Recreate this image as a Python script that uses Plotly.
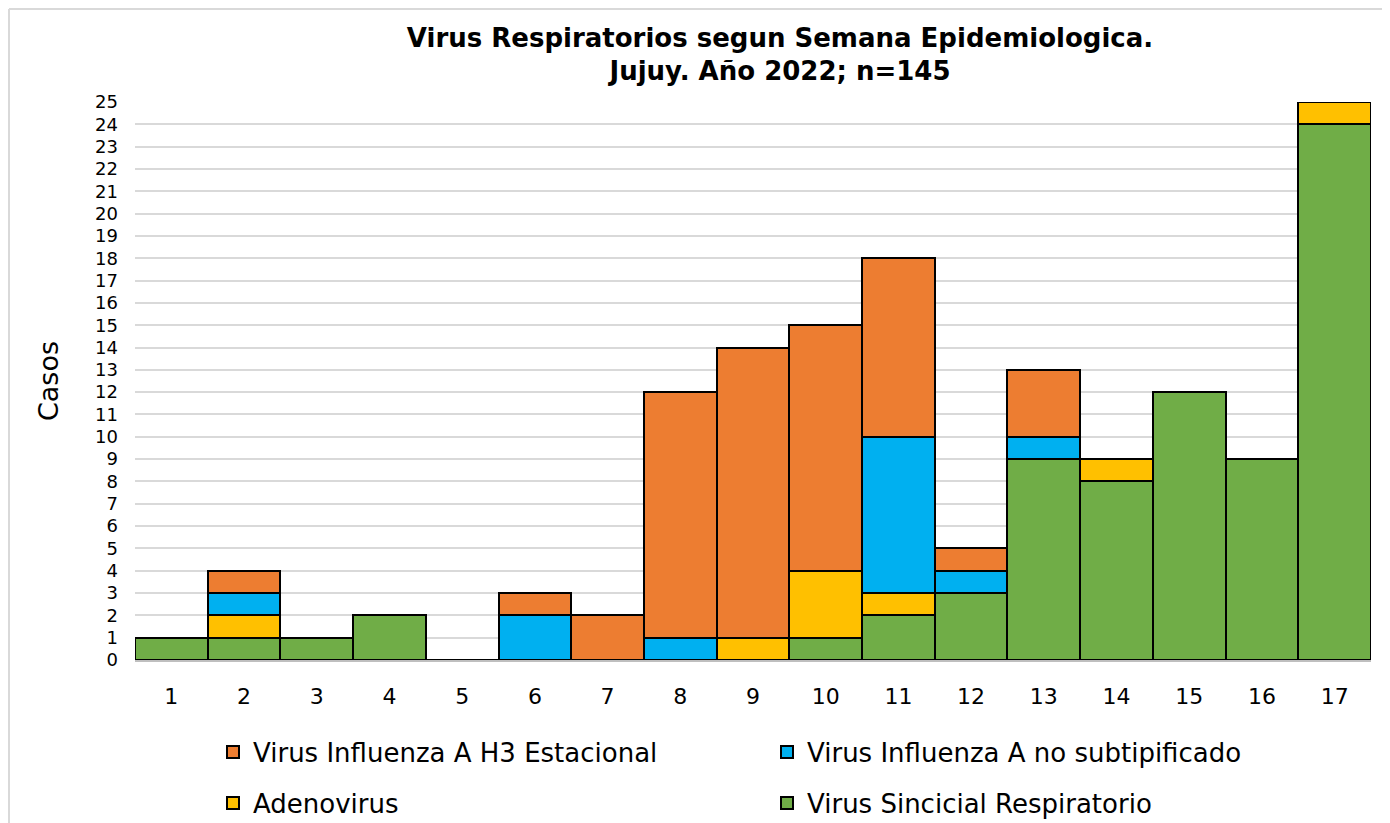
import plotly.graph_objects as go

semanas = [str(i) for i in range(1, 18)]

vsr = [1, 1, 1, 2, 0, 0, 0, 0, 0, 1, 2, 3, 9, 8, 12, 9, 24]
adenovirus = [0, 1, 0, 0, 0, 0, 0, 0, 1, 3, 1, 0, 0, 1, 0, 0, 1]
flu_a_ns = [0, 1, 0, 0, 0, 2, 0, 1, 0, 0, 7, 1, 1, 0, 0, 0, 0]
flu_h3 = [0, 1, 0, 0, 0, 1, 2, 11, 13, 11, 8, 1, 3, 0, 0, 0, 0]

FONT = "DejaVu Sans"

# stack order: bottom first
series = [
    ("Virus Sincicial Respiratorio", vsr, "#70AD47", 2, "legend2"),
    ("Adenovirus", adenovirus, "#FFC000", 1, "legend2"),
    ("Virus Influenza A no subtipificado", flu_a_ns, "#00B0F0", 2, "legend"),
    ("Virus Influenza A H3 Estacional", flu_h3, "#ED7D31", 1, "legend"),
]

fig = go.Figure()
for name, vals, color, rank, leg in series:
    fig.add_trace(go.Bar(
        x=semanas, y=vals, name=name, legendrank=rank, legend=leg,
        marker=dict(color=color, line=dict(color="black", width=2)),
    ))

# page body adds an 8px offset, margins compensate for it
L, R, T, B = 127, 27, 94, 171
PW, PH = 1390 - L - R, 823 - T - B

leg_common = dict(
    orientation="h", x=205 / 1390, xanchor="left", xref="container",
    yref="container", yanchor="middle", traceorder="normal",
    entrywidth=509, font=dict(size=26), bgcolor="rgba(0,0,0,0)",
)

fig.update_layout(
    barmode="stack",
    bargap=0,
    width=1390, height=823,
    margin=dict(l=L, r=R, t=T, b=B, autoexpand=False),
    paper_bgcolor="white",
    plot_bgcolor="white",
    font=dict(family=FONT, color="black"),
    title=dict(
        text="<b>Virus Respiratorios segun Semana Epidemiologica.<br>Jujuy. Año 2022; n=145</b>",
        x=772 / 1390, xanchor="center", y=0.953, yanchor="top",
        font=dict(size=26, family=FONT),
    ),
    yaxis=dict(
        range=[0, 25], dtick=1, showgrid=True, gridcolor="#d9d9d9", gridwidth=1.5,
        tickfont=dict(size=18), ticks="", zeroline=False, ticklabelstandoff=16,
        title=dict(text="Casos", font=dict(size=27), standoff=28),
    ),
    xaxis=dict(
        showline=True, linecolor="#bfbfbf", linewidth=2, ticks="",
        tickfont=dict(size=22), ticklabelstandoff=16,
    ),
    legend=dict(leg_common, y=1 - 744 / 823),
    legend2=dict(leg_common, y=1 - 795 / 823),
    shapes=[
        dict(type="line", xref="paper", yref="paper",
             x0=(1 - L) / PW, x1=1.1, y0=(PH + T - 1) / PH, y1=(PH + T - 1) / PH,
             line=dict(color="#d9d9d9", width=2)),
        dict(type="line", xref="paper", yref="paper",
             x0=(1 - L) / PW, x1=(1 - L) / PW, y0=(PH + T - 1) / PH, y1=-0.4,
             line=dict(color="#d9d9d9", width=2)),
    ],
)

fig.write_html("out.html")
